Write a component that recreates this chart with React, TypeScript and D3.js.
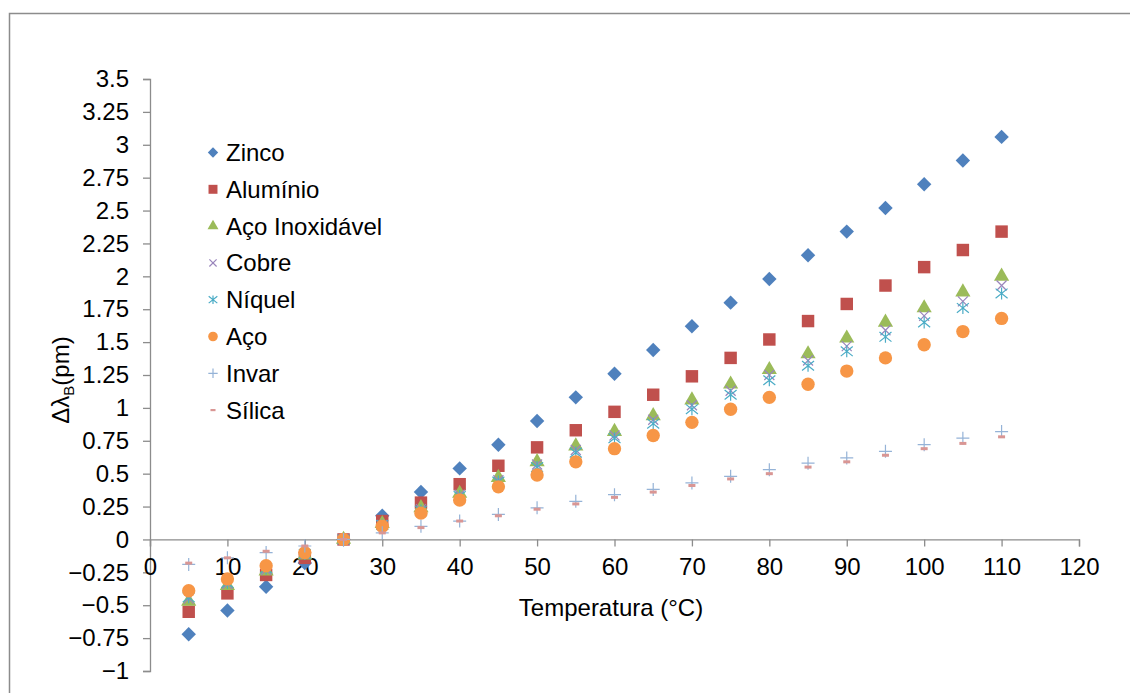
import React, { useRef, useEffect } from 'react';
import * as d3 from 'd3';

// temperatures (°C) and shift of Bragg wavelength (pm) per material
const temps = [5, 10, 15, 20, 25, 30, 35, 40, 45, 50, 55, 60, 65, 70, 75, 80, 85, 90, 95, 100, 105, 110];

const zinco = [-0.72, -0.54, -0.36, -0.18, 0, 0.18, 0.36, 0.54, 0.72, 0.9, 1.08, 1.26, 1.44, 1.62, 1.8, 1.98, 2.16, 2.34, 2.52, 2.7, 2.88, 3.06];
const aluminio = [-0.55, -0.41, -0.27, -0.14, 0, 0.14, 0.28, 0.42, 0.56, 0.7, 0.83, 0.97, 1.1, 1.24, 1.38, 1.52, 1.66, 1.79, 1.93, 2.07, 2.2, 2.34];
const acoInox = [-0.47, -0.35, -0.24, -0.12, 0, 0.12, 0.24, 0.35, 0.47, 0.59, 0.71, 0.82, 0.94, 1.06, 1.18, 1.29, 1.41, 1.53, 1.65, 1.76, 1.88, 2.0];
const cobre = [-0.45, -0.34, -0.23, -0.11, 0, 0.11, 0.23, 0.34, 0.45, 0.57, 0.68, 0.79, 0.91, 1.02, 1.13, 1.25, 1.36, 1.47, 1.59, 1.7, 1.81, 1.93];
const niquel = [-0.44, -0.33, -0.22, -0.11, 0, 0.11, 0.22, 0.33, 0.44, 0.55, 0.66, 0.77, 0.88, 0.99, 1.1, 1.21, 1.32, 1.43, 1.54, 1.65, 1.76, 1.87];
const aco = [-0.39, -0.3, -0.2, -0.1, 0, 0.1, 0.2, 0.3, 0.4, 0.49, 0.59, 0.69, 0.79, 0.89, 0.99, 1.08, 1.18, 1.28, 1.38, 1.48, 1.58, 1.68];
const invar = [-0.19, -0.14, -0.1, -0.05, 0, 0.05, 0.1, 0.14, 0.19, 0.24, 0.29, 0.34, 0.38, 0.43, 0.48, 0.53, 0.58, 0.62, 0.67, 0.72, 0.77, 0.82];
const silica = [-0.18, -0.14, -0.09, -0.05, 0, 0.05, 0.09, 0.14, 0.18, 0.23, 0.27, 0.32, 0.36, 0.41, 0.46, 0.5, 0.55, 0.59, 0.64, 0.69, 0.73, 0.78];

const seriesNames = ['Zinco', 'Alumínio', 'Aço Inoxidável', 'Cobre', 'Níquel', 'Aço', 'Invar', 'Sílica'];
const seriesValues = [zinco, aluminio, acoInox, cobre, niquel, aco, invar, silica];
const markerKinds = ['diamond', 'square', 'triangle', 'times', 'asterisk', 'circle', 'plus', 'dash'];
const colors = ['#4F81BD', '#C0504D', '#9BBB59', '#9A86BC', '#4BACC6', '#F79646', '#95B3D7', '#D99694'];

const xTicks = d3.range(0, 121, 10);
const yTicks = d3.range(-1, 3.51, 0.25);

const W = 1130, H = 693;
const FONT = '"Liberation Sans", Arial, sans-serif';
const FS = 24;

// draws one marker at (0,0); k scales it (legend markers are smaller)
function drawMarker(g, kind, color, k) {
  const stroke = (p) => g.append('path').attr('d', p.toString()).attr('fill', 'none')
    .attr('stroke', color).attr('stroke-width', 1.2);
  if (kind === 'diamond') {
    g.append('path').attr('d', d3.symbol(d3.symbolSquare, 104 * k * k)()).attr('transform', 'rotate(45)').attr('fill', color);
  } else if (kind === 'square') {
    g.append('path').attr('d', d3.symbol(d3.symbolSquare, 155 * k * k)()).attr('fill', color);
  } else if (kind === 'triangle') {
    g.append('path').attr('d', d3.symbol(d3.symbolTriangle, 100 * k * k)()).attr('fill', color);
  } else if (kind === 'circle') {
    g.append('path').attr('d', d3.symbol(d3.symbolCircle, 140 * k * k)()).attr('fill', color);
  } else if (kind === 'times') {
    const r = 5 * k, p = d3.path();
    p.moveTo(-r, -r); p.lineTo(r, r); p.moveTo(-r, r); p.lineTo(r, -r);
    stroke(p);
  } else if (kind === 'asterisk') {
    const r = 6 * k, p = d3.path();
    p.moveTo(-r, -r * 0.8); p.lineTo(r, r * 0.8); p.moveTo(-r, r * 0.8); p.lineTo(r, -r * 0.8);
    p.moveTo(0, -r); p.lineTo(0, r);
    stroke(p);
  } else if (kind === 'plus') {
    const r = 6.5 * k, p = d3.path();
    p.moveTo(-r, 0); p.lineTo(r, 0); p.moveTo(0, -r); p.lineTo(0, r);
    stroke(p);
  } else if (kind === 'dash') {
    g.append('rect').attr('x', -3.5 * k).attr('y', -1.5 * k).attr('width', 7 * k).attr('height', 3 * k).attr('fill', color);
  }
}

export default function App() {
  const ref = useRef(null);

  useEffect(() => {
    const svg = d3.select(ref.current);
    svg.selectAll('*').remove();

    const x = d3.scaleLinear().domain([0, 120]).range([150, 1079]);
    const y = d3.scaleLinear().domain([-1, 3.5]).range([671, 79]);

    // outer chart border
    svg.append('path').attr('d', `M9.5,${H}V13.5H${W}`).attr('fill', 'none').attr('stroke', '#8c8c8c').attr('stroke-width', 1.5);

    // y axis
    const ya = svg.append('g').attr('transform', `translate(${x(0)},0)`)
      .call(d3.axisLeft(y).tickValues(yTicks).tickSize(7).tickPadding(14).tickFormat((d) => d3.format('')(+d.toFixed(2))));
    ya.selectAll('text').attr('font-size', FS).attr('font-family', FONT).attr('fill', '#000');
    ya.selectAll('line, path').attr('stroke', '#8c8c8c').attr('stroke-width', 1.3);

    // x axis, drawn on the zero line
    const xa = svg.append('g').attr('transform', `translate(0,${y(0)})`)
      .call(d3.axisBottom(x).tickValues(xTicks).tickSize(7).tickSizeOuter(7).tickPadding(12));
    xa.selectAll('text').attr('font-size', FS).attr('font-family', FONT).attr('fill', '#000');
    xa.selectAll('line, path').attr('stroke', '#8c8c8c').attr('stroke-width', 1.3);

    // points
    seriesValues.forEach((vals, si) => {
      const g = svg.append('g');
      vals.forEach((v, i) => {
        const m = g.append('g').attr('transform', `translate(${x(temps[i])},${y(v)})`);
        drawMarker(m, markerKinds[si], colors[si], 1);
      });
    });

    // legend
    const leg = svg.append('g');
    seriesNames.forEach((name, i) => {
      const cy = 152.5 + i * 36.8;
      const m = leg.append('g').attr('transform', `translate(213,${cy})`);
      drawMarker(m, markerKinds[i], colors[i], 0.72);
      leg.append('text').attr('x', 226).attr('y', cy).attr('dy', '0.35em')
        .attr('font-size', FS).attr('font-family', FONT).text(name);
    });

    // axis titles
    svg.append('text').attr('x', 611).attr('y', 616).attr('text-anchor', 'middle')
      .attr('font-size', FS).attr('font-family', FONT).text('Temperatura (°C)');

    const yl = svg.append('text').attr('transform', 'translate(69,380) rotate(-90)').attr('text-anchor', 'middle')
      .attr('font-size', FS).attr('font-family', FONT);
    yl.append('tspan').text('Δλ');
    yl.append('tspan').attr('font-size', 15).attr('dy', 5).text('B');
    yl.append('tspan').attr('dy', -5).text('(pm)');
  }, []);

  return (
    <svg ref={ref} width={W} height={H}
      style={{ position: 'absolute', left: 0, top: 0, background: '#fff', display: 'block' }} />
  );
}
